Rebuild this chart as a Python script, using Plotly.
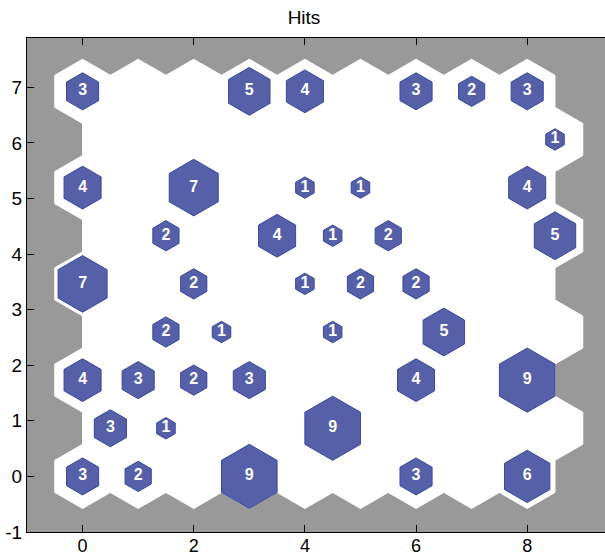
import math
import plotly.graph_objects as go

# SOM hits, grid of 9 x 9 neurons (rows from bottom to top, odd rows shifted by 0.5)
hits_rows = [
    [3, 2, 0, 9, 0, 0, 3, 0, 6],
    [3, 1, 0, 0, 9, 0, 0, 0, 0],
    [4, 3, 2, 3, 0, 0, 4, 0, 9],
    [0, 2, 1, 0, 1, 0, 5, 0, 0],
    [7, 0, 2, 0, 1, 2, 2, 0, 0],
    [0, 2, 0, 4, 1, 2, 0, 0, 5],
    [4, 0, 7, 0, 1, 1, 0, 0, 4],
    [0, 0, 0, 0, 0, 0, 0, 0, 1],
    [3, 0, 0, 5, 4, 0, 3, 2, 3],
]
x_ticks = [0, 2, 4, 6, 8]
y_ticks = [-1, 0, 1, 2, 3, 4, 5, 6, 7]
y_tick_labels = ["-1", "0", "1", "2", "3", "4", "5", "6", "7"]
title_text = "Hits"

R = 1 / math.sqrt(3)
ang = [math.radians(30 + 60 * k) for k in range(7)]
max_hits = max(max(r) for r in hits_rows)

wx, wy, bx, by, tx, ty, tt = [], [], [], [], [], [], []
for j, row in enumerate(hits_rows):
    for i, h in enumerate(row):
        cx = i + (0.5 if j % 2 else 0.0)
        cy = j * math.sqrt(3) / 2
        for a in ang:
            wx.append(cx + R * math.cos(a))
            wy.append(cy + R * math.sin(a))
        wx.append(None)
        wy.append(None)
        if h > 0:
            r = R * math.sqrt(h / max_hits)
            for a in ang:
                bx.append(cx + r * math.cos(a))
                by.append(cy + r * math.sin(a))
            bx.append(None)
            by.append(None)
            tx.append(cx)
            ty.append(cy)
            tt.append(str(h))

fig = go.Figure()
fig.add_trace(go.Scatter(x=wx, y=wy, mode="lines", fill="toself",
                         fillcolor="white", line=dict(color="white", width=1),
                         hoverinfo="skip", showlegend=False))
fig.add_trace(go.Scatter(x=bx, y=by, mode="lines", fill="toself",
                         fillcolor="#5560A8", line=dict(color="#3C479C", width=1),
                         hoverinfo="skip", showlegend=False))
fig.add_trace(go.Scatter(x=tx, y=ty, mode="text", text=tt,
                         textfont=dict(family="Liberation Sans", size=16,
                                       color="white", weight="bold"),
                         hoverinfo="skip", showlegend=False))

fig.update_layout(
    width=605, height=555,
    margin=dict(l=27, r=0, t=38, b=23, autoexpand=False),
    paper_bgcolor="white", plot_bgcolor="#999999",
    font=dict(family="Liberation Sans", color="black", size=19),
    title=dict(text=title_text, x=304 / 605, xanchor="center", y=1 - 17 / 555,
               yanchor="middle", font=dict(size=19)),
)
fig.update_xaxes(range=[-1, 9.4], tickvals=x_ticks, ticks="inside", ticklen=7,
                 tickcolor="black", showline=True, linecolor="black", linewidth=1,
                 mirror="ticks", showgrid=False, zeroline=False, automargin=False,
                 ticklabelstandoff=-3, tickfont=dict(size=18))
fig.update_yaxes(range=[-1, 7.888], tickvals=y_ticks, ticktext=y_tick_labels,
                 ticks="inside", ticklen=7,
                 tickcolor="black", showline=True, linecolor="black", linewidth=1,
                 mirror=False, showgrid=False, zeroline=False, automargin=False,
                 ticklabelstandoff=0)

fig.write_html("out.html", config={"displayModeBar": False},
               post_script="document.body.style.margin='0';document.body.style.overflow='hidden';")
